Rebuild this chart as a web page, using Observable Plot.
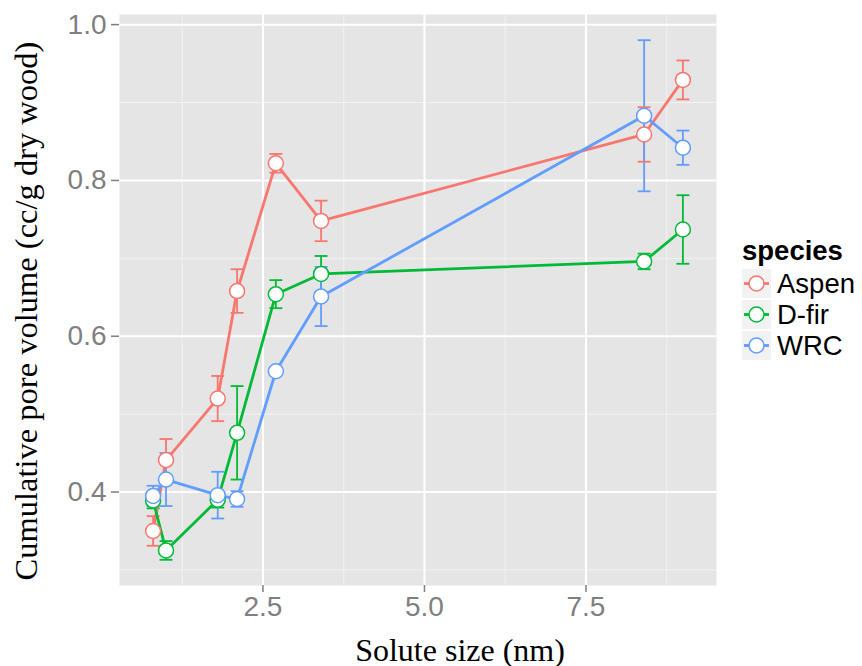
<!DOCTYPE html>
<html>
<head>
<meta charset="utf-8">
<script src="https://cdn.jsdelivr.net/npm/d3@7"></script>
<script src="https://cdn.jsdelivr.net/npm/@observablehq/plot@0.6"></script>
<style>
  body { margin: 0; background: #fff; }
  #wrap { position: relative; width: 862px; height: 666px; }
  #legend { position: absolute; left: 742px; top: 236px; font-family: "Liberation Sans", Arial, sans-serif; }
  #legend .title { font-weight: bold; font-size: 27.5px; line-height: 30px; height: 32px; }
  #legend .row { display: flex; align-items: center; height: 31px; }
  #legend .row span { font-size: 27.5px; margin-left: 6px; }
</style>
</head>
<body>
<div id="wrap"></div>
<script>
// Data
const solute = [0.8, 1.0, 1.8, 2.1, 2.7, 3.4, 8.4, 9.0];
const speciesNames = ["Aspen", "D-fir", "WRC"];
const aspen   = [0.350, 0.441, 0.520, 0.658, 0.822, 0.748, 0.859, 0.929];
const aspenSE = [0.019, 0.027, 0.029, 0.028, 0.012, 0.026, 0.035, 0.025];
const dfir    = [0.389, 0.325, 0.390, 0.476, 0.654, 0.680, 0.696, 0.737];
const dfirSE  = [0.010, 0.012, 0.010, 0.060, 0.018, 0.023, 0.010, 0.044];
const wrc     = [0.395, 0.416, 0.396, 0.391, 0.555, 0.651, 0.883, 0.842];
const wrcSE   = [0.013, 0.034, 0.030, 0.010, 0.005, 0.038, 0.097, 0.022];
const xTicks = [2.5, 5.0, 7.5];
const xMinor = [1.25, 3.75, 6.25, 8.75];
const yTicks = [0.4, 0.6, 0.8, 1.0];
const yMinor = [0.3, 0.5, 0.7, 0.9];
const colors = ["#F8766D", "#00BA38", "#619CFF"];

const seriesVals = [aspen, dfir, wrc];
const seriesSE = [aspenSE, dfirSE, wrcSE];
const data = [];
speciesNames.forEach((s, k) => {
  solute.forEach((x, i) => {
    data.push({species: s, size: x, vol: seriesVals[k][i], lo: seriesVals[k][i] - seriesSE[k][i], hi: seriesVals[k][i] + seriesSE[k][i]});
  });
});
const capHalf = 0.1; // error bar width 0.2 in data units

const tickFont = "Liberation Sans, Arial, sans-serif";
const titleFont = "Liberation Serif, Times New Roman, serif";

const plot = Plot.plot({
  width: 862,
  height: 666,
  marginLeft: 119,
  marginRight: 146,
  marginTop: 14,
  marginBottom: 81,
  style: {background: "transparent", overflow: "visible"},
  x: {domain: [0.28, 9.52]},
  y: {domain: [0.28, 1.013]},
  color: {domain: speciesNames, range: colors},
  marks: [
    Plot.frame({fill: "#E5E5E5", stroke: null}),
    Plot.gridX(xMinor, {stroke: "#F2F2F2", strokeOpacity: 1, strokeWidth: 1}),
    Plot.gridY(yMinor, {stroke: "#F2F2F2", strokeOpacity: 1, strokeWidth: 1}),
    Plot.gridX(xTicks, {stroke: "#FFFFFF", strokeOpacity: 1, strokeWidth: 2}),
    Plot.gridY(yTicks, {stroke: "#FFFFFF", strokeOpacity: 1, strokeWidth: 2}),
    Plot.axisX(xTicks, {tickFormat: d3.format(".1f"), tickSize: 7, tickPadding: 4, fontSize: 28, color: "#7F7F7F", fontFamily: tickFont, label: null, strokeWidth: 1.5}),
    Plot.axisY(yTicks, {tickFormat: d3.format(".1f"), tickSize: 8, tickPadding: 5, fontSize: 28, color: "#7F7F7F", fontFamily: tickFont, label: null, strokeWidth: 1.5}),
    // error bars
    Plot.ruleX(data, {x: "size", y1: "lo", y2: "hi", stroke: "species", strokeWidth: 1.8}),
    Plot.link(data, {x1: d => d.size - capHalf, x2: d => d.size + capHalf, y1: "lo", y2: "lo", stroke: "species", strokeWidth: 1.8}),
    Plot.link(data, {x1: d => d.size - capHalf, x2: d => d.size + capHalf, y1: "hi", y2: "hi", stroke: "species", strokeWidth: 1.8}),
    // lines
    Plot.line(data, {x: "size", y: "vol", z: "species", stroke: "species", strokeWidth: 2.8}),
    // points
    Plot.dot(data, {x: "size", y: "vol", stroke: "species", fill: "white", r: 7.5, strokeWidth: 1.5}),
    // axis titles
    Plot.text(["Solute size (nm)"], {frameAnchor: "bottom", lineAnchor: "bottom", dy: 75, dx: 42, fontSize: 32, fontFamily: titleFont, fill: "black", textAnchor: "middle"}),
    Plot.text(["Cumulative pore volume (cc/g dry wood)"], {frameAnchor: "left", lineAnchor: "bottom", rotate: -90, dx: -83, dy: 11, fontSize: 32.5, fontFamily: titleFont, fill: "black", textAnchor: "middle"})
  ]
});

const wrap = document.getElementById("wrap");
wrap.appendChild(plot);

// legend
const legend = document.createElement("div");
legend.id = "legend";
let html = '<div class="title">species</div>';
speciesNames.forEach((s, k) => {
  html += '<div class="row"><svg width="29" height="29" style="display:block">' +
    '<rect x="0" y="0" width="29" height="29" fill="#F2F2F2"/>' +
    '<line x1="2" x2="27" y1="14.5" y2="14.5" stroke="' + colors[k] + '" stroke-width="2.8"/>' +
    '<circle cx="14.5" cy="14.5" r="7.5" fill="white" stroke="' + colors[k] + '" stroke-width="1.5"/>' +
    '</svg><span>' + s + '</span></div>';
});
legend.innerHTML = html;
wrap.appendChild(legend);
</script>
</body>
</html>
